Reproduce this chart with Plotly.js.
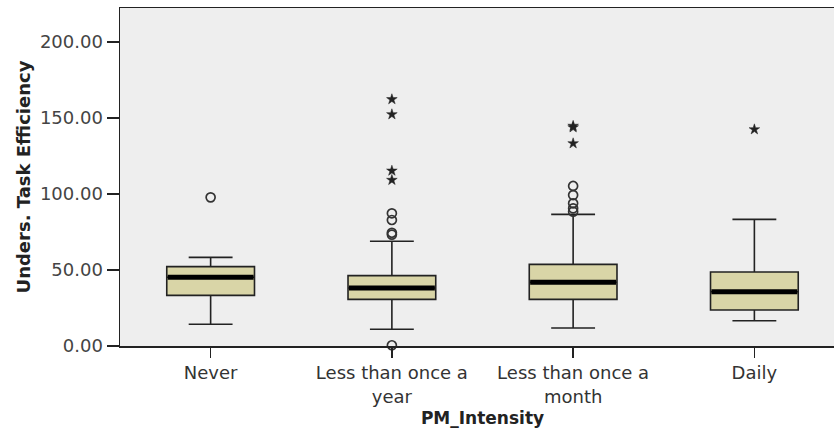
<!DOCTYPE html>
<html>
<head>
<meta charset="utf-8">
<script src="https://cdn.plot.ly/plotly-3.0.1.min.js"></script>
<style>
html, body { margin:0; padding:0; overflow:hidden; background:#fff; }
#chart { width:845px; height:437px; }
</style>
</head>
<body>
<div id="chart"></div>
<script>
const categories = ["Never", "Less than once a<br>year", "Less than once a<br>month", "Daily"];
const lowerWhisker = [14.3, 11.0, 11.8, 16.6];
const q1 = [33.3, 30.7, 30.7, 23.7];
const medians = [45.2, 38.2, 41.9, 35.7];
const q3 = [52.2, 46.3, 53.7, 48.7];
const upperWhisker = [58.3, 68.9, 86.6, 83.3];

// outliers (circles) and extremes (stars)
const outlierCat = [categories[0], categories[1], categories[1], categories[1], categories[1], categories[1],
                    categories[2], categories[2], categories[2], categories[2], categories[2]];
const outlierVal = [97.8, 87.3, 82.9, 74.5, 73.3, 0.5,
                    105.3, 99.3, 93.9, 90.6, 88.4];
const extremeCat = [categories[1], categories[1], categories[1], categories[1],
                    categories[2], categories[2], categories[2], categories[3]];
const extremeVal = [162.3, 152.4, 115.3, 109.2,
                    144.8, 143.8, 133.3, 142.5];

const boxWidth = 0.484;

const boxTrace = {
  type: 'box',
  x: categories,
  q1: q1, median: medians, q3: q3,
  lowerfence: lowerWhisker, upperfence: upperWhisker,
  width: boxWidth,
  fillcolor: '#D9D5A7',
  line: { color: '#222', width: 1.6 },
  whiskerwidth: 0.5,
  boxpoints: false,
  hoverinfo: 'skip',
  showlegend: false
};
const outTrace = {
  type: 'scatter', mode: 'markers',
  x: outlierCat, y: outlierVal,
  marker: { symbol: 'circle-open', size: 9, color: '#333', line: { width: 1.7, color: '#333' } },
  cliponaxis: false, showlegend: false
};
const extTrace = {
  type: 'scatter', mode: 'markers',
  x: extremeCat, y: extremeVal,
  marker: { symbol: 'star', size: 8, color: '#222', line: { width: 0.5, color: '#222' } },
  cliponaxis: false, showlegend: false
};

const medianShapes = medians.map((m, i) => ({
  type: 'line', xref: 'x', yref: 'y',
  x0: i - boxWidth / 2 + 0.005, x1: i + boxWidth / 2 - 0.005, y0: m, y1: m,
  line: { color: '#000', width: 5 }
}));

const layout = {
  width: 845, height: 437,
  margin: { l: 120, r: 0, t: 8, b: 91 },
  paper_bgcolor: '#ffffff',
  plot_bgcolor: '#EEEEEE',
  font: { family: 'DejaVu Sans, sans-serif', color: '#333' },
  xaxis: {
    type: 'category',
    range: [-0.5, 3.5],
    showline: true, linecolor: '#222', linewidth: 1.5, mirror: true,
    ticks: 'outside', ticklen: 10, tickwidth: 1.3, tickcolor: '#222',
    showgrid: false, zeroline: false,
    tickfont: { family: 'DejaVu Sans, sans-serif', size: 18, color: '#333' },
    title: { text: 'PM_Intensity', font: { family: 'DejaVu Sans, sans-serif', size: 17, color: '#222', weight: 'bold' }, standoff: 6 }
  },
  yaxis: {
    range: [0, 222.4],
    tickvals: [0, 50, 100, 150, 200],
    tickformat: '.2f',
    showline: true, linecolor: '#222', linewidth: 1.5, mirror: true,
    ticks: 'outside', ticklen: 12, tickwidth: 1.3, tickcolor: '#222',
    showgrid: false, zeroline: false,
    tickfont: { family: 'DejaVu Sans, sans-serif', size: 18, color: '#444' },
    title: { text: 'Unders. Task Efficiency', font: { family: 'DejaVu Sans, sans-serif', size: 18, color: '#222', weight: 'bold' }, standoff: 4 }
  },
  shapes: medianShapes
};

Plotly.newPlot('chart', [boxTrace, outTrace, extTrace], layout, { displayModeBar: false, staticPlot: true });
</script>
</body>
</html>
